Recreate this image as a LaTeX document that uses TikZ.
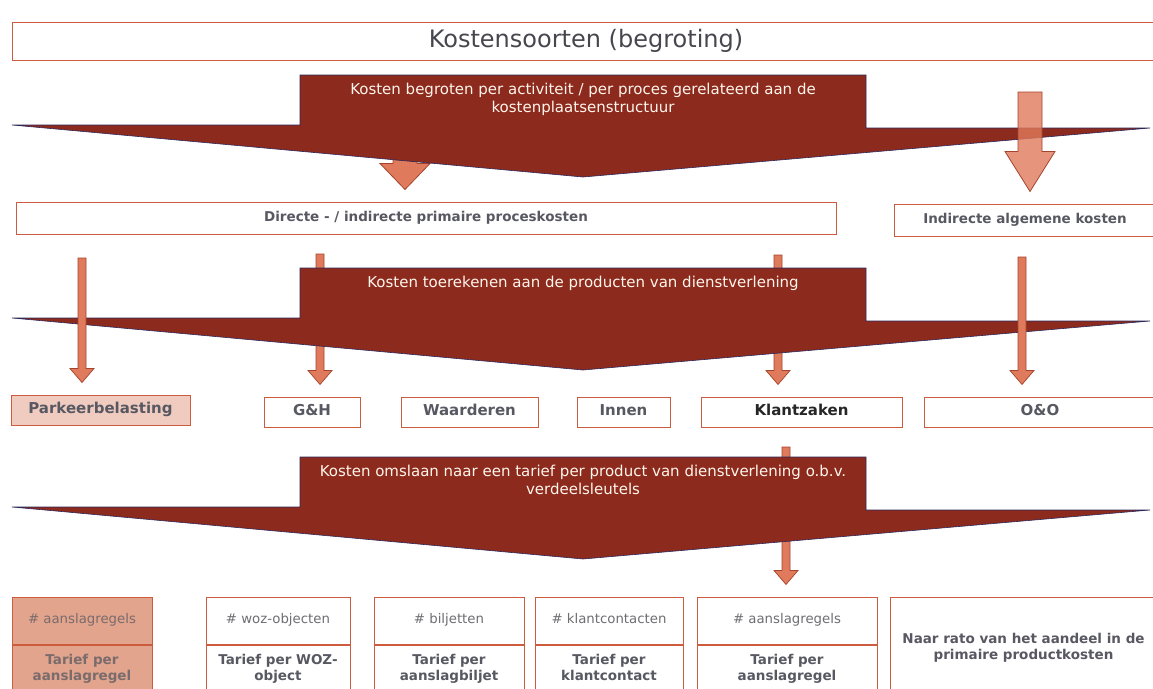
\documentclass[tikz,border=0pt]{standalone}
\usepackage{fontspec}
\setmainfont{DejaVu Sans}
\usetikzlibrary{calc,positioning}

\definecolor{arrowred}{RGB}{140,42,30}
\definecolor{arrowedge}{RGB}{45,40,90}
\definecolor{pijl}{RGB}{224,122,92}
\definecolor{pijledge}{RGB}{165,68,45}
\definecolor{boxline}{RGB}{205,92,62}
\definecolor{boxtext}{RGB}{88,88,98}
\definecolor{keytext}{RGB}{110,110,115}
\definecolor{zalm}{RGB}{240,204,192}
\definecolor{zalmdonker}{RGB}{226,164,140}

\tikzset{
  box/.style={draw=boxline, line width=1pt, minimum height=30pt, inner sep=2pt,
    font=\fontsize{15}{18}\selectfont\bfseries, text=boxtext},
  rowbox/.style={box, minimum height=32pt, font=\fontsize{13.5}{16}\selectfont\bfseries},
  keybox/.style={box, minimum height=47pt, font=\fontsize{13.3}{16}\selectfont, text=keytext},
  tarbox/.style={box, minimum height=50pt, align=center, font=\fontsize{13.5}{16}\selectfont\bfseries},
  salmonbox/.style={fill=zalmdonker, text=boxtext!75!zalmdonker},
  plainbox/.style={},
  darktext/.style={text=black!85},
  bigarrow/.style={fill=arrowred, draw=arrowedge, line width=0.6pt},
  arrowtext/.style={anchor=north, align=center, text=white!92!orange, font=\fontsize{15}{18}\selectfont},
  fatarrow/.style={fill=pijl, draw=pijledge, line width=0.8pt},
  thinarrow/.style={fill=pijl, draw=pijledge, line width=0.7pt}
}

\newcommand{\blockarrow}[6]{%
  \draw[#1] let \p1=(#2), \p2=(#3) in
    (\x1-#4,\y1) -- (\x1+#4,\y1) -- (\x1+#4,\y2+12pt+#6) -- (\x1+#5,\y2+12pt+#6)
    -- (\x1,\y2+12pt) -- (\x1-#5,\y2+12pt+#6) -- (\x1-#4,\y2+12pt+#6) -- cycle;}

\newcommand{\costarrow}[3]{%
  \draw[bigarrow] (12,#2+50) -- (300,#2+50) -- (300,#2) -- (866,#2) -- (866,#2+53)
    -- (1150,#2+53) -- (583,#2+102) -- cycle;
  \node[arrowtext] (#1) at (583,#2+5) {#3};}

\begin{document}
\begin{tikzpicture}[x=1pt,y=-1pt]
\useasboundingbox (0,0) rectangle (1153,688);
\fill[white] (0,0) rectangle (1153,688);

\node[box, minimum width=1148pt, minimum height=38pt, font=\fontsize{24}{28}\selectfont,
  text=boxtext!80!black] (soorten) at (586,41) {Kostensoorten (begroting)};

\node[rowbox, minimum width=820pt] (directe) at (426,218)
  {Directe - / indirecte primaire proceskosten};
\node[rowbox, minimum width=262pt] (indirect) at (1025,220)
  {Indirecte algemene kosten};

\coordinate (sDirecte) at (405,150);
\blockarrow{fatarrow}{sDirecte}{directe.north}{12pt}{25pt}{26pt}
\costarrow{begroten}{75}{Kosten begroten per activiteit / per proces gerelateerd aan de\\kostenplaatsenstructuur}
\coordinate (sIndirect) at (1030,92);
\blockarrow{fatarrow, fill opacity=0.8}{sIndirect}{indirect.north}{12pt}{25pt}{40pt}

\node[box, minimum width=179pt, fill=zalm, text=boxtext] (parkeer) at (100.5,410)
  {Parkeerbelasting\strut};
\foreach \nm/\px/\bw/\txt/\st in {gh/312/96/G\&H/plainbox, waard/469.5/137/Waarderen/plainbox,
    innen/623.5/93/Innen/plainbox, klant/801.5/201/Klantzaken/darktext,
    oeno/1040/232/O\&O/plainbox}
  \node[box, minimum width=\bw pt, \st] (\nm) at (\px,412) {\txt\strut};

\coordinate (sGH) at (320,254);
\coordinate (sKlant) at (778,255);
\blockarrow{thinarrow}{sGH}{gh.north}{4pt}{12pt}{14pt}
\blockarrow{thinarrow}{sKlant}{klant.north}{4pt}{12pt}{14pt}
\costarrow{toerekenen}{268}{Kosten toerekenen aan de producten van dienstverlening}
\coordinate (sParkeer) at (82,258);
\coordinate (sOenO) at (1022,257);
\blockarrow{thinarrow}{sParkeer}{parkeer.north}{4pt}{12pt}{14pt}
\blockarrow{thinarrow}{sOenO}{oeno.north}{4pt}{12pt}{14pt}

\foreach \nm/\lx/\bw/\key/\tar/\st in {
    aanslagA/12/140/aanslagregels/{Tarief per\\aanslagregel}/salmonbox,
    woz/206/144/woz-objecten/{Tarief per WOZ-\\object}/plainbox,
    biljet/374/150/biljetten/{Tarief per\\aanslagbiljet}/plainbox,
    contact/535/148/klantcontacten/{Tarief per\\klantcontact}/plainbox,
    aanslagB/697/180/aanslagregels/{Tarief per\\aanslagregel}/plainbox}
{
  \node[keybox, minimum width=\bw pt, \st] (\nm) at (\lx+\bw/2,620.5) {\# \key\strut};
  \node[tarbox, minimum width=\bw pt, \st, below=0pt of \nm] (\nm-tarief) {\tar\strut};
}
\node[tarbox, minimum width=266pt, minimum height=100pt, anchor=north west] (rato)
  at (890,597) {Naar rato van het aandeel in de\\primaire productkosten};

\coordinate (sAanslag) at (786,447);
\blockarrow{thinarrow}{sAanslag}{aanslagB.north}{4pt}{12pt}{14pt}
\costarrow{omslaan}{457}{Kosten omslaan naar een tarief per product van dienstverlening o.b.v.\\verdeelsleutels}
\end{tikzpicture}
\end{document}
